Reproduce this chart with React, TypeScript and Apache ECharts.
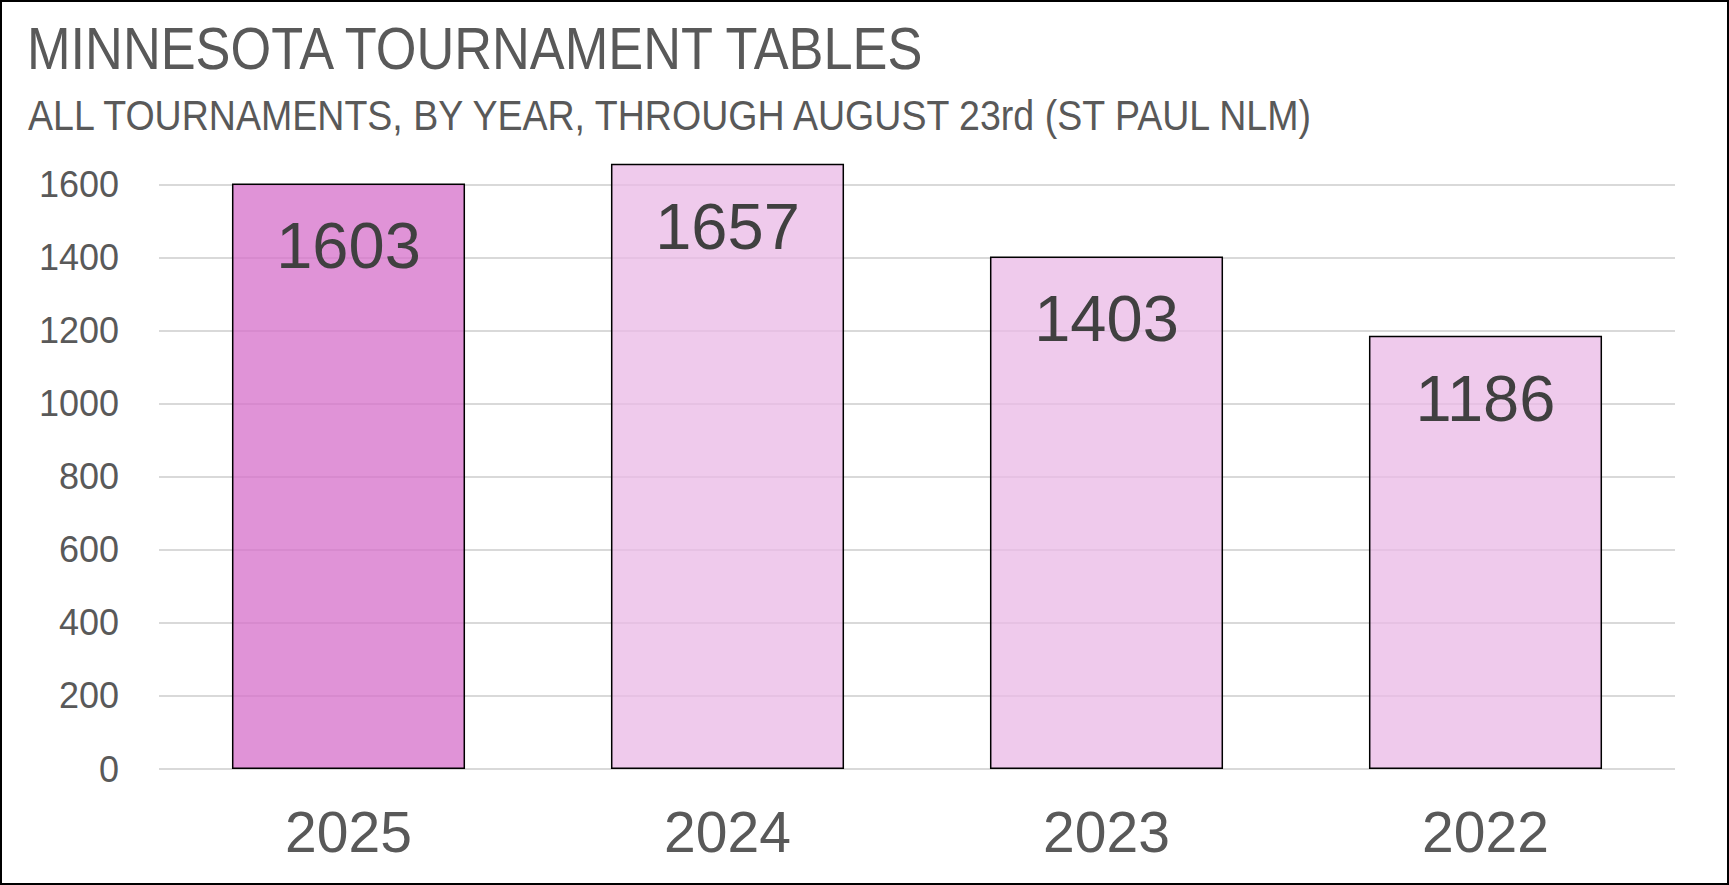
import { useEffect, useRef } from "react"
import * as echarts from "echarts"

const years = ["2025", "2024", "2023", "2022"]
const tables = [1603, 1657, 1403, 1186]
const highlightYear = "2025"

const titleText = "MINNESOTA TOURNAMENT TABLES"
const subtitleText = "ALL TOURNAMENTS, BY YEAR, THROUGH AUGUST 23rd (ST PAUL NLM)"

const W = 1729
const H = 885

export default function App() {
  const chartRef = useRef<HTMLDivElement>(null)

  useEffect(() => {
    document.body.style.margin = "0"
    if (!chartRef.current) return
    const chart = echarts.init(chartRef.current, null, { renderer: "svg" })

    chart.setOption({
      animation: false,
      backgroundColor: "#ffffff",
      textStyle: { fontFamily: "Liberation Sans, Arial, sans-serif" },
      graphic: [
        {
          type: "rect",
          shape: { x: 1, y: 1, width: W - 2, height: H - 2 },
          style: { fill: "none", stroke: "#000", lineWidth: 2 },
          silent: true,
        },
        {
          type: "text",
          x: 27,
          y: 48,
          scaleX: 0.872,
          style: {
            text: titleText,
            font: "60px 'Liberation Sans', Arial, sans-serif",
            fill: "#595959",
            verticalAlign: "middle",
          },
        },
        {
          type: "text",
          x: 28,
          y: 115,
          scaleX: 0.894,
          style: {
            text: subtitleText,
            font: "42px 'Liberation Sans', Arial, sans-serif",
            fill: "#595959",
            verticalAlign: "middle",
          },
        },
      ],
      grid: {
        left: 159,
        right: 54,
        top: 148,
        bottom: 116,
        containLabel: false,
      },
      xAxis: {
        type: "category",
        data: years,
        axisLine: { show: false },
        axisTick: { show: false },
        axisLabel: {
          color: "#595959",
          fontSize: 57,
          margin: 34,
        },
      },
      yAxis: {
        type: "value",
        min: 0,
        max: 1700,
        interval: 100,
        axisLine: { show: false },
        axisTick: { show: false },
        axisLabel: {
          color: "#595959",
          fontSize: 36,
          margin: 40,
          formatter: (v: number) => (v % 200 === 0 ? String(v) : ""),
        },
        splitLine: {
          lineStyle: {
            color: ["#D9D9D9", "rgba(0,0,0,0)"],
            width: 2,
          },
        },
      },
      series: [
        {
          type: "bar",
          barWidth: "61.5%",
          data: tables.map((v, i) => ({
            value: v,
            itemStyle: {
              color:
                years[i] === highlightYear
                  ? "rgba(214,113,202,0.76)"
                  : "rgba(234,185,230,0.76)",
            },
          })),
          itemStyle: {
            borderColor: "#000000",
            borderWidth: 1.5,
          },
          label: {
            show: true,
            position: "insideTop",
            distance: 30,
            color: "#404040",
            fontSize: 65,
          },
        },
      ],
    })

    return () => {
      chart.dispose()
    }
  }, [])

  return <div ref={chartRef} style={{ width: W, height: H }} />
}
